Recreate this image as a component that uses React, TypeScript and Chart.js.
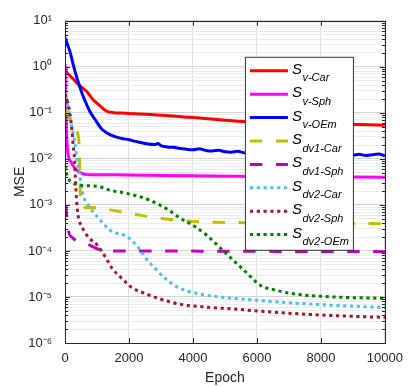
import React, { useEffect, useRef } from 'react';
import { Chart, registerables } from 'chart.js';

Chart.register(...registerables);

// ---------- data ----------
const seriesSubscripts = ['v-Car', 'v-Sph', 'v-OEm', 'dv1-Car', 'dv1-Sph', 'dv2-Car', 'dv2-Sph', 'dv2-OEm'];

const vCarEpoch = [0, 250, 460, 680, 860, 1080, 1290, 1480, 1900, 2900, 3900, 5400, 7000, 8500, 10000];
const vCarMSE = [0.82, 0.55, 0.39, 0.29, 0.2, 0.145, 0.11, 0.102, 0.098, 0.09, 0.08, 0.066, 0.061, 0.057, 0.054];

const vSphEpoch = [0, 10, 25, 40, 60, 90, 200, 370, 680, 1500, 4000, 7000, 10000];
const vSphMSE = [1.15, 0.5, 0.15, 0.05, 0.025, 0.013, 0.0083, 0.0056, 0.0046, 0.0045, 0.0043, 0.0041, 0.004];

const vOEmEpoch = [
  0, 150, 310, 460, 615, 770, 975, 1170, 1480, 1750,
  2000, 2200, 2400, 2600, 2800, 2900, 3000, 3200, 3400, 3600, 3800,
  4000, 4200, 4400, 4600, 4800, 5000, 5200, 5400, 5600, 5800,
  6000, 6200, 6400, 6600, 6800, 7000, 7200, 7400, 7600, 7800,
  8000, 8200, 8400, 8600, 8800, 9000, 9200, 9400, 9600, 9800, 10000,
];
const vOEmMSE = [
  4.3, 2.2, 0.81, 0.37, 0.19, 0.11, 0.066, 0.043, 0.032, 0.028,
  0.026, 0.024, 0.0225, 0.021, 0.0205, 0.0215, 0.0195, 0.0182, 0.0178, 0.0168, 0.0162,
  0.0158, 0.0166, 0.0152, 0.0148, 0.0155, 0.0143, 0.014, 0.0146, 0.0136, 0.0133,
  0.0139, 0.0131, 0.0128, 0.0134, 0.0126, 0.013, 0.0124, 0.0129, 0.0122, 0.0127,
  0.012, 0.0125, 0.0119, 0.0124, 0.0131, 0.0121, 0.0126, 0.0118, 0.0123, 0.0128, 0.0116,
];

const dv1CarEpoch = [0, 100, 250, 400, 440, 460, 480, 500, 800, 1400, 2200, 3100, 3900, 4700, 6000, 8000, 10000];
const dv1CarMSE = [0.12, 0.08, 0.05, 0.035, 0.02, 0.006, 0.0015, 0.0009, 0.00088, 0.00078, 0.00062, 0.0005, 0.00044, 0.00042, 0.00041, 0.0004, 0.00039];

const dv1SphEpoch = [0, 40, 90, 250, 710, 1080, 1480, 3000, 5000, 7500, 10000];
const dv1SphMSE = [0.001, 0.00072, 0.00031, 0.00019, 0.00014, 0.000107, 0.0001, 0.0000995, 0.0000985, 0.0000975, 0.0000965];

const dv2CarEpoch = [0, 100, 215, 310, 370, 460, 550, 770, 1015, 1230, 1480, 1785, 2000, 2310, 2550, 2830, 3140, 3540, 4150, 5000, 6000, 7000, 8000, 9000, 10000];
const dv2CarMSE = [0.3, 0.13, 0.05, 0.022, 0.01, 0.0044, 0.0018, 0.0009, 0.00055, 0.00037, 0.00026, 0.00023, 0.00019, 0.000114, 0.000066, 0.000041, 0.000025, 0.000016, 0.0000118, 0.0000097, 0.0000085, 0.0000075, 0.0000068, 0.0000063, 0.0000059];

const dv2SphEpoch = [0, 90, 150, 215, 250, 300, 330, 360, 400, 554, 770, 985, 1290, 1480, 1785, 2090, 2520, 2920, 3630, 4460, 5385, 6100, 8150, 10000];
const dv2SphMSE = [0.26, 0.16, 0.1, 0.043, 0.022, 0.009, 0.003, 0.0013, 0.00065, 0.00031, 0.000187, 0.000139, 0.000069, 0.000041, 0.000025, 0.000016, 0.0000118, 0.0000093, 0.0000069, 0.000006, 0.0000054, 0.0000049, 0.000004, 0.0000036];

const dv2OEmEpoch = [0, 60, 215, 460, 770, 1077, 1385, 1900, 2615, 3230, 3630, 4060, 4460, 4860, 5290, 5690, 6100, 6600, 7140, 8150, 10000];
const dv2OEmMSE = [0.0071, 0.0044, 0.0031, 0.0027, 0.0026, 0.0025, 0.0021, 0.0018, 0.0013, 0.00078, 0.0005, 0.00034, 0.00021, 0.000115, 0.00006, 0.000033, 0.000018, 0.000014, 0.0000117, 0.0000102, 0.0000093];

const xTickValues = [0, 2000, 4000, 6000, 8000, 10000];
const xTickLabels = ['0', '2000', '4000', '6000', '8000', '10000'];
const yTickLabels = ['10⁻⁶', '10⁻⁵', '10⁻⁴', '10⁻³', '10⁻²', '10⁻¹', '10⁰', '10¹'];
const yMinExp = -6;
const yMaxExp = 1;

// ---------- styles ----------
const FONT = '"Liberation Sans", Arial, Helvetica, sans-serif';
const SOLID: number[] = [];
const DASH = [12.5, 13.5];
const DOT = [3.2, 3.6];
const styles = [
  { color: '#ff0000', dash: SOLID },
  { color: '#ff00ff', dash: SOLID },
  { color: '#0000ff', dash: SOLID },
  { color: '#bfbf00', dash: DASH },
  { color: '#bf00bf', dash: DASH },
  { color: '#4dbeee', dash: DOT },
  { color: '#a2142f', dash: DOT },
  { color: '#008000', dash: DOT },
];

const seriesEpochs = [vCarEpoch, vSphEpoch, vOEmEpoch, dv1CarEpoch, dv1SphEpoch, dv2CarEpoch, dv2SphEpoch, dv2OEmEpoch];
const seriesMSE = [vCarMSE, vSphMSE, vOEmMSE, dv1CarMSE, dv1SphMSE, dv2CarMSE, dv2SphMSE, dv2OEmMSE];

// y grid ticks: 1..9 x 10^e per decade, label only on decades
const yGridTicks: { value: number; label: string }[] = [];
for (let e = yMinExp; e < yMaxExp; e++) {
  for (let m = 1; m <= 9; m++) {
    yGridTicks.push({ value: Number((m * Math.pow(10, e)).toPrecision(3)), label: m === 1 ? yTickLabels[e - yMinExp] : '' });
  }
}
yGridTicks.push({ value: Math.pow(10, yMaxExp), label: yTickLabels[yTickLabels.length - 1] });

const framePlugin = {
  id: 'framePlugin',
  afterDraw(chart: any) {
    const { ctx, chartArea: a, scales } = chart;
    const xs = scales.x;
    const ys = scales.y;
    ctx.save();
    ctx.strokeStyle = '#262626';
    ctx.lineWidth = 1;
    ctx.setLineDash([]);
    ctx.beginPath();
    xTickValues.forEach((v) => {
      const px = Math.round(xs.getPixelForValue(v)) + 0.5;
      ctx.moveTo(px, a.bottom);
      ctx.lineTo(px, a.bottom - 5);
      ctx.moveTo(px, a.top);
      ctx.lineTo(px, a.top + 5);
    });
    yGridTicks.forEach((t) => {
      const py = Math.round(ys.getPixelForValue(t.value)) + 0.5;
      const len = t.label ? 5 : 3;
      ctx.moveTo(a.left, py);
      ctx.lineTo(a.left + len, py);
      ctx.moveTo(a.right, py);
      ctx.lineTo(a.right - len, py);
    });
    ctx.stroke();
    ctx.strokeRect(Math.round(a.left) + 0.5, Math.round(a.top) + 0.5, Math.round(a.right - a.left), Math.round(a.bottom - a.top));

    // legend
    const bx = a.right - 140;
    const by = a.top + 36;
    const bw = 108;
    const bh = 193;
    ctx.fillStyle = '#ffffff';
    ctx.fillRect(bx, by, bw, bh);
    ctx.strokeStyle = '#333333';
    ctx.strokeRect(bx + 0.5, by + 0.5, bw, bh);
    seriesSubscripts.forEach((sub, i) => {
      const ry = by + 14 + i * 23.4;
      const st = styles[i];
      ctx.strokeStyle = st.color;
      ctx.lineWidth = 3;
      ctx.lineCap = 'butt';
      ctx.setLineDash(st.dash);
      ctx.beginPath();
      ctx.moveTo(bx + 5, ry);
      ctx.lineTo(bx + 43, ry);
      ctx.stroke();
      ctx.setLineDash([]);
      ctx.fillStyle = '#000000';
      ctx.textAlign = 'left';
      ctx.textBaseline = 'alphabetic';
      ctx.font = `italic 15px ${FONT}`;
      ctx.fillText('S', bx + 47, ry + 3);
      const sw = ctx.measureText('S').width;
      ctx.font = `italic 11px ${FONT}`;
      ctx.fillText(sub, bx + 47 + sw + 0.5, ry + 10.5);
    });
    ctx.restore();
  },
};

export default function App() {
  const ref = useRef<HTMLCanvasElement | null>(null);
  useEffect(() => {
    document.body.style.margin = '0';
    const canvas = ref.current;
    if (!canvas) return;
    const datasets = seriesSubscripts.map((name, i) => ({
      label: 'S_' + name,
      data: seriesEpochs[i].map((x, j) => ({ x, y: seriesMSE[i][j] })),
      borderColor: styles[i].color,
      backgroundColor: styles[i].color,
      borderWidth: 3,
      borderDash: styles[i].dash,
      borderCapStyle: 'butt' as const,
      pointRadius: 0,
      fill: false,
      cubicInterpolationMode: 'monotone' as const,
      order: -i,
    }));
    const chart = new Chart(canvas, {
      type: 'line',
      data: { datasets },
      plugins: [framePlugin],
      options: {
        responsive: false,
        animation: false,
        events: [],
        layout: { padding: { top: 16, right: 20, left: 0, bottom: 0 } },
        plugins: { legend: { display: false }, tooltip: { enabled: false } },
        scales: {
          x: {
            type: 'linear',
            min: 0,
            max: 10000,
            afterFit: (s: any) => { s.height = 44; },
            afterBuildTicks: (s: any) => { s.ticks = xTickValues.map((v) => ({ value: v })); },
            ticks: {
              color: '#262626',
              font: { family: FONT, size: 13 },
              padding: 8,
              maxRotation: 0,
              autoSkip: false,
              callback: (_v: any, idx: number) => xTickLabels[idx],
            },
            grid: { color: '#dedede', drawTicks: false },
            border: { display: false },
            title: { display: true, text: 'Epoch', color: '#262626', font: { family: FONT, size: 14 }, padding: { top: 1, bottom: 0 } },
          },
          y: {
            type: 'logarithmic',
            min: 1e-6,
            max: 10,
            afterFit: (s: any) => { s.width = 65; },
            afterBuildTicks: (s: any) => { s.ticks = yGridTicks.map((t) => ({ value: t.value })); },
            ticks: {
              autoSkip: false,
              color: '#262626',
              font: { family: FONT, size: 13 },
              padding: 13,
              callback: (_v: any, idx: number) => (yGridTicks[idx] ? yGridTicks[idx].label : ''),
            },
            grid: {
              drawTicks: false,
              color: (c: any) => (yGridTicks[c.index] && yGridTicks[c.index].label ? '#d4d4d4' : '#ececec'),
            },
            border: { display: false },
            title: { display: true, text: 'MSE', color: '#262626', font: { family: FONT, size: 14 }, padding: { top: 12, bottom: 0 } },
          },
        },
      },
    });
    return () => chart.destroy();
  }, []);
  return <canvas ref={ref} width={411} height={387} style={{ display: 'block' }} />;
}
